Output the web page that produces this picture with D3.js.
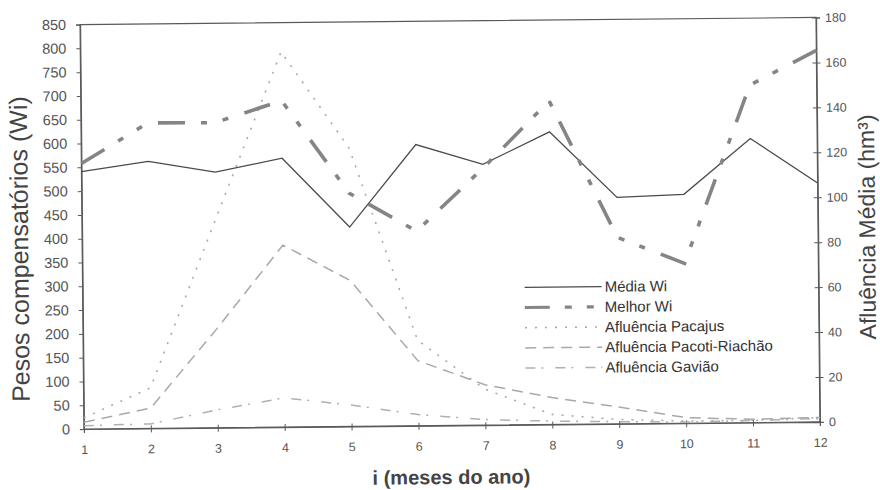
<!DOCTYPE html>
<html>
<head>
<meta charset="utf-8">
<script src="https://cdn.jsdelivr.net/npm/d3@7"></script>
<style>
  body { margin: 0; background: #fff; }
  svg text { font-family: "Liberation Sans", Arial, sans-serif; }
</style>
</head>
<body>
<svg id="chart"></svg>
<script>

//**** DATA ****//
const months = [1, 2, 3, 4, 5, 6, 7, 8, 9, 10, 11, 12];

// left axis: Pesos compensatórios (Wi)
const mediaWi  = [541, 561, 537, 565, 419, 591, 548, 615, 476, 481, 597, 502];
const melhorWi = [558, 642, 641, 686, 490, 409, 540, 680, 392, 336, 709, 781];

// right axis: Afluência Média (hm³)
const afluPacajus = [5, 18, 93, 167, 124, 38, 16, 4.5, 2, 1, 1, 2];
const afluPacoti  = [3, 9, 44, 81, 65, 29, 18, 12, 7.5, 2.5, 1.5, 2];
const afluGaviao  = [1.5, 2, 8, 13, 9.5, 5, 2.5, 1.5, 1, 0.5, 1, 1.5];

const leftTicks  = d3.range(0, 851, 50);
const rightTicks = d3.range(0, 181, 20);

const seriesNames = ["Média Wi", "Melhor Wi", "Afluência Pacajus", "Afluência Pacoti-Riachão", "Afluência Gavião"];


//**** LAYOUT ****//
const width = 880,
      height = 490;

const plot = {left: 82, right: 818, top: 21, bottom: 425.5};

const x = d3.scaleLinear().domain([1, 12]).range([plot.left, plot.right]);
const yLeft = d3.scaleLinear().domain([0, 850]).range([plot.bottom, plot.top]);
const yRight = d3.scaleLinear().domain([0, 180]).range([plot.bottom, plot.top]);

// line styles, in the same order as seriesNames
const styles = [
    {color: "#4a4a4a", w: 1.3, dash: null},
    {color: "#858585", w: 3.6, dash: "27,16,6,16,6,17"},
    {color: "#a9a9a9", w: 1.6, dash: "2,8"},
    {color: "#a9a9a9", w: 1.5, dash: "11,7"},
    {color: "#b0b0b0", w: 1.5, dash: "10,6,2,12"}
];

const svg = d3.select("#chart")
    .attr("width", width)
    .attr("height", height);

// the scanned original is tilted a little
const g = svg.append("g")
    .attr("transform", "rotate(-0.55, 450, 225)");


//**** AXES ****//
g.append("rect")
    .attr("x", plot.left).attr("y", plot.top)
    .attr("width", plot.right - plot.left)
    .attr("height", plot.bottom - plot.top)
    .attr("fill", "none")
    .attr("stroke", "#5a5a5a")
    .attr("stroke-width", 1.2);

const leftAxis = g.append("g")
    .attr("transform", "translate(" + plot.left + ",0)")
    .call(d3.axisLeft(yLeft).tickValues(leftTicks).tickSize(4).tickPadding(10));

const rightAxis = g.append("g")
    .attr("transform", "translate(" + plot.right + ",0)")
    .call(d3.axisRight(yRight).tickValues(rightTicks).tickSize(4).tickPadding(5));
rightAxis.selectAll(".tick line").attr("x1", -4);

const bottomAxis = g.append("g")
    .attr("transform", "translate(0," + plot.bottom + ")")
    .call(d3.axisBottom(x).tickValues(months).tickFormat(d3.format("d")).tickSize(4));
bottomAxis.selectAll(".tick line").attr("y1", -3);
bottomAxis.selectAll(".tick text").attr("y", 16);

[leftAxis, rightAxis, bottomAxis].forEach(function(a) {
    a.select(".domain").attr("stroke", "#5a5a5a").attr("stroke-width", 1.2);
    a.selectAll(".tick line").attr("stroke", "#5a5a5a");
    a.selectAll(".tick text").attr("fill", "#555").style("font-family", "'Liberation Sans', Arial, sans-serif");
});
leftAxis.selectAll(".tick text").style("font-size", "14.5px");
rightAxis.selectAll(".tick text").style("font-size", "12.5px");
bottomAxis.selectAll(".tick text").style("font-size", "12.5px");

// axis titles
g.append("text")
    .attr("transform", "translate(28,245) rotate(-90)")
    .attr("text-anchor", "middle")
    .style("font-size", "25px")
    .attr("fill", "#444")
    .text("Pesos compensatórios (Wi)");

g.append("text")
    .attr("transform", "translate(875,231) rotate(-90)")
    .attr("text-anchor", "middle")
    .style("font-size", "23px")
    .attr("fill", "#444")
    .text("Afluência Média (hm³)");

g.append("text")
    .attr("x", 449).attr("y", 484)
    .attr("text-anchor", "middle")
    .style("font-size", "20px")
    .style("font-weight", "bold")
    .attr("fill", "#444")
    .text("i (meses do ano)");


//**** LINES ****//
const lineLeft = d3.line()
    .x(function(d, i) { return x(months[i]); })
    .y(function(d) { return yLeft(d); });

const lineRight = d3.line()
    .x(function(d, i) { return x(months[i]); })
    .y(function(d) { return yRight(d); });

const series = [
    {values: afluGaviao, line: lineRight, s: styles[4]},
    {values: afluPacoti, line: lineRight, s: styles[3]},
    {values: afluPacajus, line: lineRight, s: styles[2]},
    {values: mediaWi, line: lineLeft, s: styles[0]},
    {values: melhorWi, line: lineLeft, s: styles[1]}
];

g.selectAll(".series")
    .data(series)
    .enter()
    .append("path")
    .attr("class", "series")
    .attr("d", function(d) { return d.line(d.values); })
    .attr("fill", "none")
    .attr("stroke", function(d) { return d.s.color; })
    .attr("stroke-width", function(d) { return d.s.w; })
    .attr("stroke-dasharray", function(d) { return d.s.dash; });


//**** LEGEND ****//
const legend = g.selectAll(".legend")
    .data(seriesNames)
    .enter()
    .append("g")
    .attr("class", "legend")
    .attr("transform", function(d, i) { return "translate(524," + (288 + i * 20.2) + ")"; });

legend.append("line")
    .attr("x1", 0).attr("x2", 77)
    .attr("stroke", function(d, i) { return styles[i].color; })
    .attr("stroke-width", function(d, i) { return Math.min(styles[i].w, 3.2); })
    .attr("stroke-dasharray", function(d, i) { return i == 1 ? "25,15,7,15,7,15" : styles[i].dash; });

legend.append("text")
    .attr("x", 80)
    .attr("dy", "0.35em")
    .style("font-size", "15px")
    .attr("fill", "#333")
    .text(function(d) { return d; });

</script>
</body>
</html>
